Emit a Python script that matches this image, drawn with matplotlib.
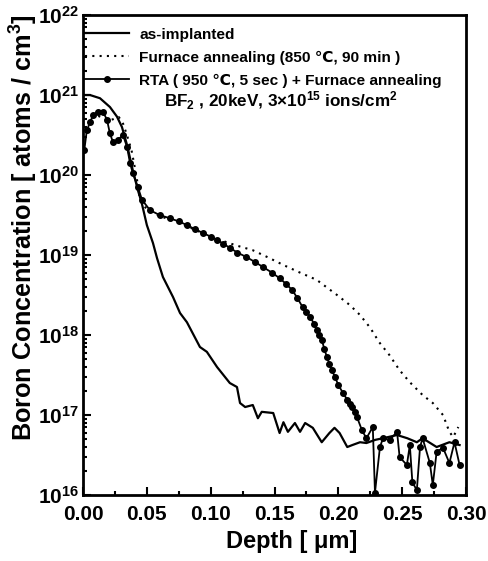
import matplotlib
matplotlib.use("Agg")
import matplotlib.pyplot as plt
import numpy as np

plt.rcParams['font.family'] = ['Liberation Sans', 'DejaVu Sans']
plt.rcParams['font.weight'] = 'bold'
plt.rcParams['mathtext.fontset'] = 'custom'
plt.rcParams['mathtext.rm'] = 'Liberation Sans:bold'
plt.rcParams['mathtext.bf'] = 'Liberation Sans:bold'
plt.rcParams['mathtext.it'] = 'Liberation Sans:bold:italic'

# as-implanted (depth um, log10 concentration)
imp_x = [0.0016, 0.0055, 0.0133, 0.0211, 0.0266, 0.0305, 0.0345, 0.039, 0.043, 0.046,
         0.050, 0.0548, 0.058, 0.0626, 0.0705, 0.076, 0.0814, 0.0916, 0.097, 0.105,
         0.115, 0.1206, 0.123, 0.127, 0.133, 0.137, 0.140, 0.149, 0.154, 0.157,
         0.1605, 0.166, 0.170, 0.174, 0.180, 0.187, 0.193, 0.197, 0.201, 0.207,
         0.211, 0.217, 0.222, 0.229, 0.235, 0.246, 0.254, 0.2615, 0.266, 0.277,
         0.287, 0.295]
imp_logy = [21.0, 21.0, 20.96, 20.85, 20.73, 20.6, 20.375, 20.06, 19.81, 19.65,
            19.375, 19.15, 18.96, 18.725, 18.475, 18.275, 18.16, 17.85, 17.79, 17.6,
            17.4, 17.35, 17.15, 17.1, 17.125, 16.96, 17.04, 17.025, 16.775, 16.91,
            16.79, 16.9, 16.79, 16.9, 16.84, 16.66, 16.775, 16.84, 16.775, 16.6,
            16.625, 16.66, 16.65, 16.69, 16.71, 16.75, 16.71, 16.66, 16.71, 16.6,
            16.66, 16.625]

# furnace annealing (850 C, 90 min)
fur_x = [0.002, 0.006, 0.010, 0.015, 0.020, 0.024, 0.028, 0.031, 0.034, 0.038,
         0.042, 0.0446, 0.050, 0.060, 0.070, 0.080, 0.090, 0.100, 0.107, 0.120,
         0.133, 0.145, 0.157, 0.170, 0.183, 0.199, 0.209, 0.217, 0.225, 0.232,
         0.240, 0.248, 0.256, 0.266, 0.274, 0.282, 0.287, 0.290, 0.294]
fur_logy = [20.55, 20.68, 20.75, 20.72, 20.68, 20.7, 20.725, 20.66, 20.52, 20.31,
            19.975, 19.69, 19.57, 19.49, 19.43, 19.37, 19.30, 19.23, 19.19, 19.12,
            19.06, 18.97, 18.875, 18.78, 18.69, 18.5, 18.375, 18.25, 18.09, 17.91,
            17.75, 17.56, 17.41, 17.25, 17.15, 17.0, 16.79, 16.725, 16.85]

# RTA (950 C, 5 sec) + furnace annealing
rta_x = [0.001, 0.003, 0.0055, 0.008, 0.0117, 0.0157, 0.0188, 0.021, 0.0235, 0.0274,
         0.0313, 0.0345, 0.0368, 0.039, 0.043, 0.0462, 0.0525, 0.060, 0.068, 0.075,
         0.0814, 0.088, 0.094, 0.100, 0.105, 0.110, 0.115, 0.121, 0.128, 0.135,
         0.141, 0.148, 0.154, 0.159, 0.164, 0.168, 0.172, 0.175, 0.178, 0.181,
         0.183, 0.185, 0.187, 0.189, 0.191, 0.193, 0.195, 0.1975, 0.200, 0.2035,
         0.207, 0.209, 0.211, 0.213, 0.2146, 0.2185, 0.222, 0.227, 0.2287, 0.2326,
         0.235, 0.2404, 0.246, 0.248, 0.2537, 0.256, 0.258, 0.2615, 0.264, 0.266,
         0.2717, 0.274, 0.277, 0.282, 0.287, 0.291, 0.295]
rta_logy = [20.31, 20.56, 20.66, 20.75, 20.79, 20.79, 20.69, 20.525, 20.41, 20.44,
            20.5, 20.35, 20.15, 20.025, 19.85, 19.69, 19.56, 19.5, 19.46, 19.42,
            19.375, 19.32, 19.275, 19.23, 19.19, 19.14, 19.09, 19.03, 18.975, 18.91,
            18.85, 18.78, 18.71, 18.64, 18.56, 18.46, 18.35, 18.29, 18.225, 18.14,
            18.06, 18.0, 17.94, 17.83, 17.725, 17.64, 17.56, 17.47, 17.375, 17.28,
            17.19, 17.14, 17.1, 17.04, 16.975, 16.81, 16.71, 16.85, 16.03, 16.6,
            16.71, 16.69, 16.79, 16.475, 16.375, 16.625, 16.16, 16.06, 16.6, 16.71,
            16.4, 16.125, 16.54, 16.59, 16.4, 16.66, 16.375]

labels = ['as-implanted', 'Furnace annealing (850 \u2103, 90 min )',
          'RTA ( 950 \u2103, 5 sec ) + Furnace annealing']
xticks = [0.00, 0.05, 0.10, 0.15, 0.20, 0.25, 0.30]
yexps = [16, 17, 18, 19, 20, 21, 22]

fig = plt.figure(figsize=(4.88, 5.61), dpi=100)
ax = fig.add_axes([0.1701, 0.1176, 0.7848, 0.8556])

ax.plot(imp_x, 10 ** np.array(imp_logy), color='black', lw=1.6, label=labels[0])
ax.plot(fur_x, 10 ** np.array(fur_logy), color='black', lw=1.5,
        linestyle=(0, (1, 2.5)), label=labels[1])
ax.plot(rta_x, 10 ** np.array(rta_logy), color='black', lw=1.3, marker='o',
        markersize=4, label=labels[2])

ax.set_yscale('log')
ax.set_xlim(0, 0.30)
ax.set_ylim(1e16, 1e22)
ax.set_xticks(xticks)
ax.set_xticklabels(['%.2f' % v for v in xticks], fontsize=15, fontweight='bold')
ax.set_xticks(np.arange(0.025, 0.30, 0.05), minor=True)
ax.set_yticks([10.0 ** e for e in yexps])
ax.set_yticklabels([r'$\mathbf{10^{%d}}$' % e for e in yexps], fontsize=15)
ax.tick_params(which='both', direction='in', top=False, right=False, width=1.5)
ax.tick_params(which='major', length=6)
ax.tick_params(axis='x', which='major', pad=7)
ax.tick_params(axis='y', which='major', pad=3)
ax.tick_params(which='minor', length=3)
for s in ax.spines.values():
    s.set_linewidth(2)

ax.set_xlabel('Depth [ \u03bcm]', fontsize=17, fontweight='bold')
ax.xaxis.set_label_coords(0.546, -0.072)
ax.set_ylabel(r'Boron Concentration [ atoms / cm$^{3}$]', fontsize=18.2,
              fontweight='bold')
ax.yaxis.set_label_coords(-0.112, 0.557)

leg = ax.legend(loc='upper left', bbox_to_anchor=(0.004, 0.974), frameon=False,
                fontsize=11.1, handlelength=2.9, handletextpad=0.65,
                labelspacing=0.58, borderaxespad=0.0, borderpad=0.0)
for t in leg.get_texts():
    t.set_fontweight('bold')

ax.text(0.517, 0.822, r'BF$_2$ , 20keV, 3$\times$10$^{15}$ ions/cm$^2$',
        transform=ax.transAxes, ha='center', va='center', fontsize=12.3,
        fontweight='bold')

fig.savefig('out.png', dpi=100)
